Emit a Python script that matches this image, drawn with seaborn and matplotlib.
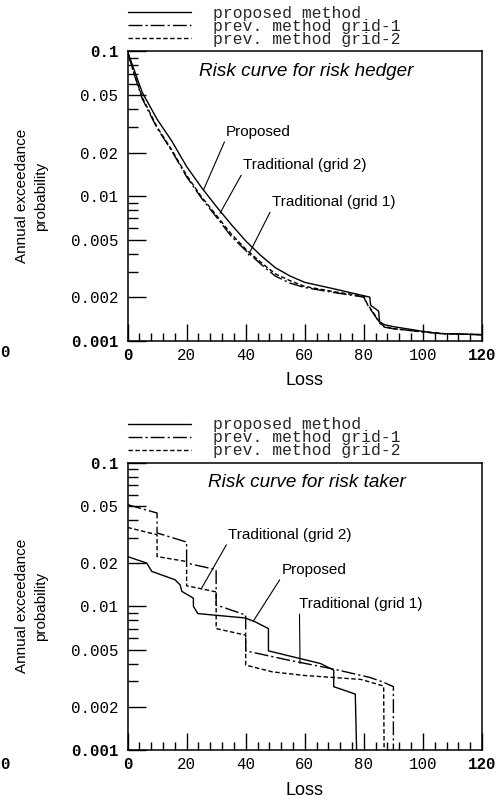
import numpy as np
import pandas as pd
import matplotlib
matplotlib.use("Agg")
import matplotlib.pyplot as plt
import seaborn as sns
from matplotlib.ticker import FixedLocator, NullFormatter

sns.set_theme(style="ticks")
plt.rcParams['font.family'] = ['Liberation Sans', 'DejaVu Sans']
plt.rcParams['axes.edgecolor'] = 'black'

METHODS = ["proposed method", "prev. method grid-1", "prev. method grid-2"]

# ---- Risk hedger curves ----
hedger_loss_proposed = [0, 2, 5, 10, 15, 20, 25, 30, 35, 40, 45, 50, 55, 60, 70, 82,
                        82.3, 85, 85.3, 87, 90, 100, 106, 120]
hedger_prob_proposed = [0.1, 0.077, 0.052, 0.034, 0.024, 0.016, 0.0115, 0.0085, 0.0064,
                        0.0049, 0.0039, 0.0032, 0.0028, 0.00253, 0.00228, 0.002,
                        0.00176, 0.0016, 0.00135, 0.00129, 0.00125, 0.00116, 0.00112, 0.0011]

hedger_loss_grid1 = [0, 2, 5, 10, 15, 20, 25, 30, 35, 40, 45, 50, 55, 60, 70, 80,
                     81, 84, 85.5, 87, 90, 100, 106, 120]
hedger_prob_grid1 = [0.1, 0.072, 0.047, 0.0295, 0.0205, 0.0136, 0.0097, 0.0072, 0.0053,
                     0.0042, 0.0034, 0.0028, 0.0025, 0.00233, 0.00215, 0.002,
                     0.0018, 0.00146, 0.00131, 0.00124, 0.00121, 0.00115, 0.00112, 0.0011]

hedger_loss_grid2 = [0, 2, 5, 10, 15, 20, 25, 30, 35, 40, 45, 50, 55, 60, 70, 80,
                     81, 84, 85.5, 87, 90, 100, 106, 120]
hedger_prob_grid2 = [0.1, 0.073, 0.048, 0.030, 0.0208, 0.0139, 0.0099, 0.0074, 0.0055,
                     0.0043, 0.0035, 0.0029, 0.0026, 0.00237, 0.00218, 0.00203,
                     0.00182, 0.00148, 0.00132, 0.00125, 0.00121, 0.00115, 0.00112, 0.0011]

# ---- Risk taker curves ----
taker_loss_proposed = [0, 6.5, 8.2, 16.1, 17.8, 18.4, 22.3, 22.3, 23.8, 39.8, 43.2,
                       47.7, 47.7, 65.3, 69.8, 69.8, 77.1, 78]
taker_prob_proposed = [0.0222, 0.020, 0.0175, 0.0153, 0.0141, 0.0127, 0.0114, 0.0100,
                       0.0089, 0.0083, 0.0078, 0.0070, 0.0049, 0.0040, 0.0036,
                       0.00276, 0.00245, 0.0004]

taker_loss_grid1 = [0, 10, 10, 20, 20, 30, 30, 32, 40, 40, 55, 70, 82, 86, 90, 90]
taker_prob_grid1 = [0.051, 0.0446, 0.0324, 0.028, 0.020, 0.018, 0.0102, 0.0099, 0.0087,
                    0.0049, 0.0042, 0.00365, 0.0032, 0.0030, 0.00276, 0.0004]

taker_loss_grid2 = [0, 10, 10, 20, 20, 30, 30, 40, 40, 49, 60, 79, 86.7, 87]
taker_prob_grid2 = [0.0354, 0.0315, 0.0222, 0.0205, 0.0139, 0.0126, 0.0070, 0.0063,
                    0.0039, 0.0035, 0.0033, 0.0031, 0.00279, 0.0004]

# ---- axis ticks ----
y_major = [0.1, 0.05, 0.02, 0.01, 0.005, 0.002, 0.001]
y_major_labels = ["0.1", "0.05", "0.02", "0.01", "0.005", "0.002", "0.001"]
y_minor = [0.09, 0.08, 0.07, 0.06, 0.04, 0.03, 0.009, 0.008, 0.007, 0.006,
           0.004, 0.003]
x_major = [0, 20, 40, 60, 80, 100, 120]
x_major_labels = ["0", "20", "40", "60", "80", "100", "120"]


def frame(losses, probs):
    parts = []
    for m, l, p in zip(METHODS, losses, probs):
        parts.append(pd.DataFrame({"loss": l, "prob": p, "method": m}))
    return pd.concat(parts, ignore_index=True)


hedger = frame([hedger_loss_proposed, hedger_loss_grid1, hedger_loss_grid2],
               [hedger_prob_proposed, hedger_prob_grid1, hedger_prob_grid2])
taker = frame([taker_loss_proposed, taker_loss_grid1, taker_loss_grid2],
              [taker_prob_proposed, taker_prob_grid1, taker_prob_grid2])

dash_map = {"proposed method": "",
            "prev. method grid-1": (10, 2.2, 1.6, 2.2),
            "prev. method grid-2": (3.2, 1.8)}

MONO = "Liberation Mono"
fig = plt.figure(figsize=(4.96, 8.05), dpi=100)
ax1 = fig.add_axes([0.2571, 0.5768, 0.7147, 0.3593])
ax2 = fig.add_axes([0.2571, 0.0683, 0.7147, 0.3570])


def draw(ax, df, title, notes):
    sns.lineplot(data=df, x="loss", y="prob", style="method", style_order=METHODS,
                 dashes=dash_map, color="black", linewidth=1.0,
                 estimator=None, sort=False, ax=ax)
    ax.set_yscale("log")
    ax.set_xlim(0, 120)
    ax.set_ylim(0.001, 0.1)
    ax.set_yticks(y_major, labels=y_major_labels)
    ax.yaxis.set_minor_locator(FixedLocator(y_minor))
    ax.yaxis.set_minor_formatter(NullFormatter())
    ax.set_xticks(x_major, labels=x_major_labels)
    ax.xaxis.set_minor_locator(FixedLocator([v for v in range(0, 121, 4) if v % 20]))
    ax.tick_params(which="both", direction="in", left=True, bottom=True,
                   right=False, top=False, color="black", width=1.0,
                   labelsize=11.3, labelfontfamily=MONO, labelcolor="black")
    ax.tick_params(axis="y", which="major", length=13, pad=6.5)
    ax.tick_params(axis="y", which="minor", length=7)
    ax.tick_params(axis="x", which="major", length=12, pad=5)
    ax.tick_params(axis="x", which="minor", length=6)
    for lab in (ax.get_yticklabels()[0], ax.get_yticklabels()[-1],
                ax.get_xticklabels()[0], ax.get_xticklabels()[-1]):
        lab.set_fontweight("bold")
    for s in ax.spines.values():
        s.set_linewidth(1.1)
        s.set_color("black")
        s.set_visible(True)

    ax.set_xlabel("Loss", fontsize=13, labelpad=7, color="black")
    ax.set_ylabel("Annual exceedance\nprobability", fontsize=11, color="black",
                  va="center", ha="center", linespacing=1.45)
    ax.yaxis.set_label_coords(-0.272, 0.5)

    ax.text(0.505, 0.93, title, transform=ax.transAxes, ha="center", va="center",
            fontsize=13.6, style="italic", color="black")
    for text, txy, pxy in notes:
        ax.annotate(text, xy=pxy, xytext=txy, ha="left", va="center",
                    fontsize=11, color="black",
                    arrowprops=dict(arrowstyle="-", color="black", lw=0.8,
                                    shrinkA=0, shrinkB=0,
                                    relpos=(0.0, 0.0)))

    sns.move_legend(ax, "lower left", bbox_to_anchor=(0.0, 1.015), frameon=False,
                    title=None, prop={"family": MONO, "size": 11.8},
                    handlelength=3.9, handletextpad=1.3, labelspacing=-0.12,
                    borderpad=0, borderaxespad=0)


draw(ax1, hedger, "Risk curve for risk hedger",
     [("Proposed", (33.3, 0.0279), (25.7, 0.0110)),
      ("Traditional (grid 2)", (39.1, 0.0164), (31.3, 0.0076)),
      ("Traditional (grid 1)", (48.8, 0.0091), (40.9, 0.0039))])
draw(ax2, taker, "Risk curve for risk taker",
     [("Traditional (grid 2)", (34.1, 0.0316), (25.1, 0.0134)),
      ("Proposed", (52.2, 0.018), (42.6, 0.0079)),
      ("Traditional (grid 1)", (58.2, 0.0104), (58.4, 0.0040))])

# partial tick labels of the neighbouring panel at the left edge
for yf in (0.5625, 0.0505):
    fig.text(0.0, yf, "0", ha="left", va="center", fontsize=11.3,
             family=MONO, fontweight="bold", color="black")

fig.savefig("out.png", dpi=100, facecolor="white")
